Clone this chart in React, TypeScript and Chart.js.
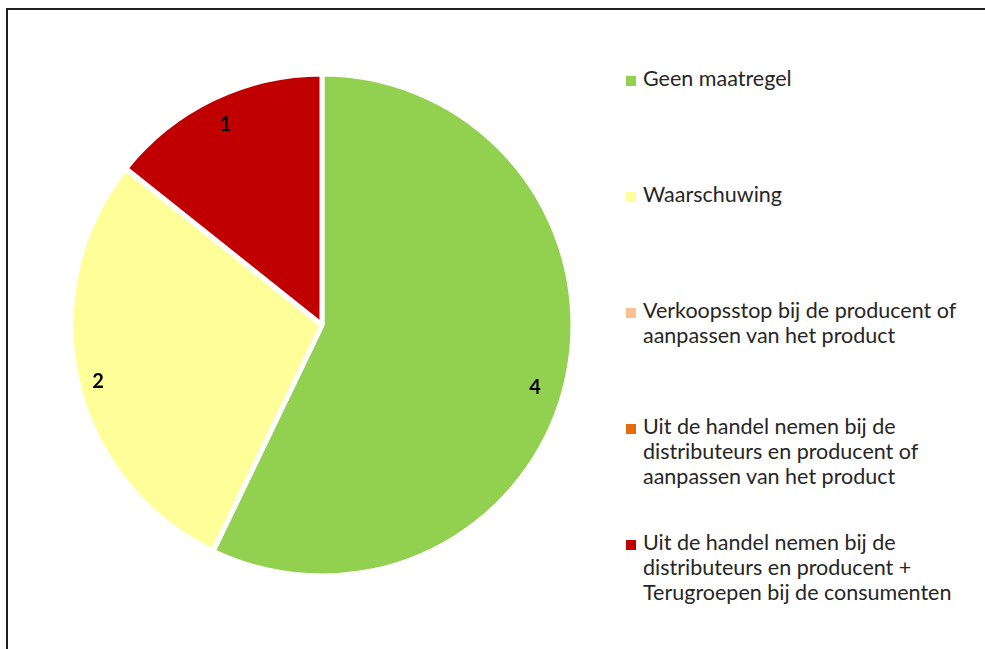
import React, { useEffect, useRef } from "react";
import { Chart, registerables } from "chart.js";

Chart.register(...registerables);

const categories = [
  "Geen maatregel",
  "Waarschuwing",
  "Verkoopsstop bij de producent of\naanpassen van het product",
  "Uit de handel nemen bij de\ndistributeurs en producent of\naanpassen van het product",
  "Uit de handel nemen bij de\ndistributeurs en producent +\nTerugroepen bij de consumenten",
];
const values = [4, 2, 0, 0, 1];
const colors = ["#92D050", "#FFFF99", "#FAC090", "#E46C0A", "#C00000"];

// style: relative radius / angle tweak for the value labels
const LABEL_RADIUS = [0.885, 0.92, 0.9, 0.9, 0.885];
const LABEL_ANGLE_SHIFT = [3.5, -1.2, 0, 0, 0];

const FONT = "Lato, 'Open Sans', sans-serif";
const TEXT = "#262626";

const valueLabels = {
  id: "valueLabels",
  afterDatasetsDraw(chart: any) {
    const ctx = chart.ctx;
    const meta = chart.getDatasetMeta(0);
    ctx.save();
    ctx.font = `bold 20px ${FONT}`;
    ctx.fillStyle = "#000";
    ctx.textAlign = "center";
    ctx.textBaseline = "middle";
    meta.data.forEach((arc: any, i: number) => {
      const v = chart.data.datasets[0].data[i];
      if (!v) return;
      const { x, y, startAngle, endAngle, outerRadius } = arc.getProps(
        ["x", "y", "startAngle", "endAngle", "outerRadius"],
        true
      );
      const mid = (startAngle + endAngle) / 2 + (LABEL_ANGLE_SHIFT[i] * Math.PI) / 180;
      const r = outerRadius * LABEL_RADIUS[i];
      ctx.fillText(String(v), x + Math.cos(mid) * r, y + Math.sin(mid) * r);
    });
    ctx.restore();
  },
};

export default function App() {
  const ref = useRef<HTMLCanvasElement | null>(null);

  useEffect(() => {
    if (!ref.current) return;
    const chart = new Chart(ref.current, {
      type: "pie",
      data: {
        labels: categories,
        datasets: [
          {
            data: values,
            backgroundColor: colors,
            borderColor: "#ffffff",
            borderWidth: 5,
            hoverOffset: 0,
          } as any,
        ],
      },
      options: {
        responsive: false,
        animation: false,
        devicePixelRatio: 1,
        radius: 251,
        layout: { padding: 0 },
        plugins: {
          legend: { display: false },
          tooltip: { enabled: false },
        },
        events: [],
      } as any,
      plugins: [valueLabels],
    });
    return () => chart.destroy();
  }, []);

  return (
    <div
      style={{
        position: "fixed",
        left: 0,
        top: 0,
        width: 985,
        height: 649,
        background: "#fff",
        overflow: "hidden",
        fontFamily: FONT,
      }}
    >
      <div
        style={{
          position: "absolute",
          left: 6,
          top: 8,
          width: 990,
          height: 660,
          borderLeft: "2px solid #1f1f1f",
          borderTop: "2px solid #1f1f1f",
        }}
      />
      <canvas
        ref={ref}
        width={540}
        height={540}
        style={{ position: "absolute", left: 52, top: 55, width: 540, height: 540 }}
      />
      <div style={{ position: "absolute", left: 626, top: 66 }}>
        {categories.map((c, i) => (
          <div
            key={i}
            style={{ position: "absolute", left: 0, top: i * 116, width: 360 }}
          >
            <div
              style={{
                position: "absolute",
                left: 0,
                top: 10,
                width: 10,
                height: 10,
                background: colors[i],
              }}
            />
            <div
              style={{
                position: "absolute",
                left: 17,
                top: 0,
                fontSize: 21.5,
                lineHeight: "25px",
                color: TEXT,
                whiteSpace: "pre",
              }}
            >
              {c}
            </div>
          </div>
        ))}
      </div>
    </div>
  );
}
